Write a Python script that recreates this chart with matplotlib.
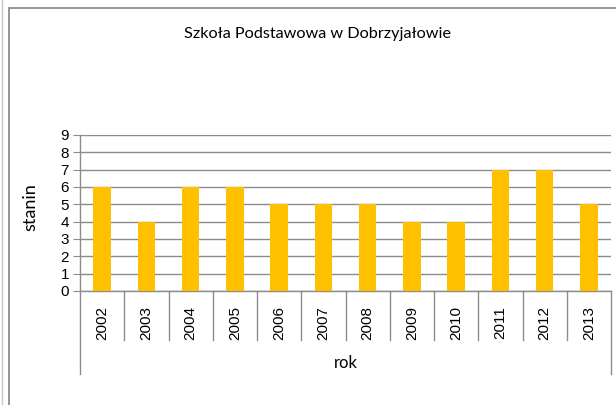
import numpy as np
import matplotlib
matplotlib.use("Agg")
from matplotlib import pyplot as plt
from matplotlib.patches import Rectangle

years = ["2002", "2003", "2004", "2005", "2006", "2007",
         "2008", "2009", "2010", "2011", "2012", "2013"]
stanin = [6, 4, 6, 6, 5, 5, 5, 4, 4, 7, 7, 5]

title = "Szkoła Podstawowa w Dobrzyjałowie"
xlabel = "rok"
ylabel = "stanin"

W, H = 616, 405
fig = plt.figure(figsize=(W / 100, H / 100), dpi=100)

# chart frame (runs past the right/bottom edges of the picture)
fig.patches.append(Rectangle((9 / W, -0.1), 1.2, 1 - 8 / H + 0.1, transform=fig.transFigure,
                             fill=False, ec="#8c8c8c", lw=1.3))
fig.lines.append(plt.Line2D([1.5 / W, 1.5 / W], [0, 1], transform=fig.transFigure,
                            color="#c8c8c8", lw=1))

left, right = 80 / W, 611 / W
bottom, top = 1 - 291 / H, 1 - 135 / H
ax = fig.add_axes([left, bottom, right - left, top - bottom])

x = np.arange(len(years))
ax.bar(x, stanin, width=0.39, color="#FFC000", zorder=3)

ax.set_xlim(-0.5, len(years) - 0.5)
ax.set_ylim(0, 9)
ax.set_yticks(range(10))
ax.yaxis.grid(True, color="#8c8c8c", lw=1)
ax.set_axisbelow(True)
for s in ["top", "right"]:
    ax.spines[s].set_visible(False)
for s in ["left", "bottom"]:
    ax.spines[s].set_color("#8c8c8c")
    ax.spines[s].set_linewidth(1)

ax.tick_params(axis="y", direction="out", length=5, color="#8c8c8c",
               labelsize=11, pad=3)
for t in ax.get_yticklabels():
    t.set_fontfamily("Liberation Sans")

ax.set_xticks(x)
ax.set_xticklabels(years, rotation=90, fontsize=11, family="Liberation Sans", va="top")
ax.tick_params(axis="x", length=0, pad=11)

# category separators below the axis
ph = (291 - 135)
trans = ax.get_xaxis_transform()
for b in np.arange(-0.5, len(years), 1.0):
    low = -(374 - 291) / ph if b in (-0.5, len(years) - 0.5) else -(340 - 291) / ph
    ax.plot([b, b], [0, low], transform=trans, color="#8c8c8c", lw=1, clip_on=False)

ax.text(0.5, -(363 - 291) / ph, xlabel, transform=ax.transAxes, ha="center",
        va="center", fontsize=12, family="Lato")
fig.text(30 / W, 1 - 207 / H, ylabel, rotation=90, ha="center", va="center",
         fontsize=13, family="Lato")
fig.text(318 / W, 1 - 34 / H, title, ha="center", va="center", fontsize=11.7,
         family="Lato")

fig.savefig("out.png", dpi=100)
